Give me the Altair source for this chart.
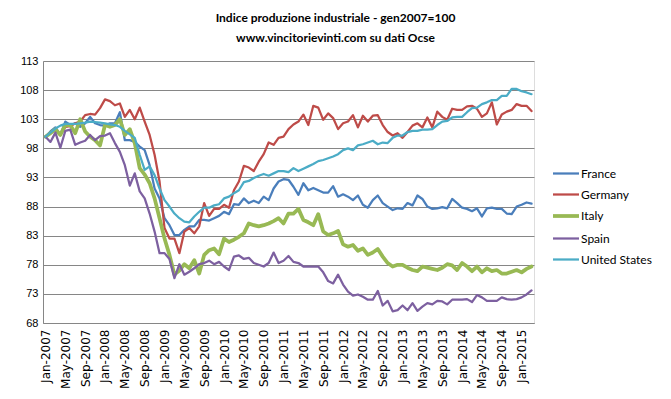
import altair as alt
import pandas as pd

month_names = ["Jan", "Feb", "Mar", "Apr", "May", "Jun",
               "Jul", "Aug", "Sep", "Oct", "Nov", "Dec"]
months = [f"{month_names[k % 12]}-{2007 + k // 12}" for k in range(99)]
tick_labels = months[::4]
y_ticks = [68, 73, 78, 83, 88, 93, 98, 103, 108, 113]

countries = ["France", "Germany", "Italy", "Spain", "United States"]
colors = ["#4A7EBB", "#BE4B48", "#98B954", "#7D60A0", "#4BACC6"]
widths = [2.25, 2.25, 3.75, 2.25, 2.25]

france = [100.0, 100.9, 101.6, 100.3, 102.6, 102.0, 102.3, 101.7, 102.3, 103.4, 102.3, 102.0,
          101.9, 102.3, 102.3, 104.2, 99.4, 99.4, 99.1, 98.3, 97.7, 95.1, 91.1, 89.4,
          86.0, 84.8, 83.1, 83.1, 84.0, 84.6, 84.6, 85.7, 85.7,
          85.6, 86.0, 86.4, 87.1, 86.7, 88.4, 88.3, 89.4, 88.6, 89.0, 88.6, 89.7, 89.1,
          91.1, 92.3, 92.7, 92.6, 91.4, 90.0, 92.0, 90.8, 91.2, 90.8, 90.4, 90.4, 91.5,
          89.7, 90.1, 89.7, 89.1, 89.9, 88.3, 87.8,
          89.1, 89.9, 88.6, 88.0, 87.4, 87.7, 87.6, 88.6, 88.2, 89.9, 89.3, 88.0, 87.6,
          87.7, 87.9, 87.7, 89.3, 88.6, 87.8, 87.6, 87.2, 87.7, 86.3, 87.7, 87.8, 87.6,
          87.6, 86.8, 86.7, 88.0, 88.3, 88.7, 88.5]
germany = [100.0, 100.6, 101.2, 100.3, 101.7, 101.8, 102.3, 102.6, 103.7, 103.9, 103.8, 104.9,
           106.4, 106.1, 105.4, 105.7, 103.4, 104.6, 103.0, 105.0, 102.6, 100.3, 96.9, 92.3,
           84.3, 82.5, 82.5, 80.0, 83.7, 84.3, 83.4, 84.6, 88.6,
           86.4, 87.6, 87.6, 88.3, 87.8, 90.8, 92.3, 95.0, 94.7, 94.1, 95.7, 97.0, 99.0,
           98.6, 99.8, 100.0, 101.3, 102.1, 102.6, 103.8, 102.0, 105.3, 105.0, 102.9, 104.0,
           103.2, 101.3, 102.3, 102.6, 103.7, 101.6, 103.6, 102.6,
           103.6, 103.7, 102.0, 100.8, 100.2, 100.6, 99.8, 100.8, 101.9, 102.3, 101.6, 103.3,
           101.6, 104.3, 103.4, 102.9, 104.8, 104.6, 104.6, 105.2, 105.3, 104.8, 103.4, 104.0,
           105.9, 102.1, 103.8, 104.3, 104.6, 105.6, 105.3, 105.3, 104.4]
italy = [100.0, 100.6, 101.3, 100.3, 102.0, 102.0, 100.6, 103.0, 100.9, 100.0, 99.4, 98.5,
         102.0, 101.7, 102.0, 103.0, 100.3, 101.3, 98.9, 94.6, 93.5, 92.0, 89.4, 86.0,
         82.5, 79.7, 76.3, 77.0, 78.1, 77.4, 78.8, 76.5, 79.7,
         80.5, 80.8, 79.8, 82.5, 81.9, 82.3, 82.8, 83.4, 85.1, 84.8, 84.6, 84.8, 85.1,
         85.5, 86.0, 85.1, 86.8, 86.8, 87.6, 85.7, 85.3, 84.8, 86.7, 83.7, 83.1, 83.4,
         83.8, 81.5, 81.1, 81.4, 80.4, 80.8, 79.7,
         80.1, 80.7, 79.4, 78.3, 77.7, 78.0, 78.0, 77.5, 77.1, 76.9, 77.7, 77.5, 77.3,
         77.1, 77.5, 78.1, 77.9, 77.1, 78.3, 77.7, 76.9, 77.7, 76.7, 77.4, 76.9, 77.1,
         76.5, 76.5, 76.8, 77.1, 76.7, 77.3, 77.7]
spain = [100.0, 99.1, 100.7, 98.1, 101.0, 101.2, 98.6, 99.0, 99.3, 100.3, 99.4, 100.1,
         100.2, 100.6, 98.9, 97.4, 95.1, 91.6, 93.7, 90.6, 89.4, 86.8, 83.7, 80.0,
         80.0, 79.0, 75.7, 78.1, 76.3, 76.8, 77.4, 78.1, 78.3,
         78.7, 78.1, 78.5, 77.7, 77.1, 79.4, 79.6, 79.0, 79.2, 78.3, 78.0, 77.7, 78.3,
         80.1, 78.3, 78.7, 79.5, 78.5, 78.3, 77.7, 77.7, 77.7, 77.7, 76.7, 75.2, 74.8,
         76.3, 74.6, 73.4, 72.7, 72.9, 72.5, 72.0,
         72.0, 73.5, 71.0, 71.8, 70.0, 70.2, 71.0, 70.2, 71.4, 70.1, 70.8, 71.4, 71.2,
         71.8, 71.7, 71.2, 72.0, 72.0, 72.0, 72.1, 71.6, 72.8, 72.4, 71.8, 71.8, 71.8,
         72.4, 72.1, 72.0, 72.1, 72.4, 72.9, 73.6]
united_states = [100.0, 100.7, 101.4, 101.9, 102.2, 102.2, 102.2, 102.3, 102.4, 102.6, 102.5, 102.4,
                 102.3, 102.1, 102.0, 101.7, 101.0, 100.4, 99.8, 96.9, 94.3, 94.9, 93.4, 91.1,
                 89.1, 88.0, 86.8, 86.0, 85.4, 85.3, 86.3, 87.1, 87.8,
                 87.8, 88.2, 88.4, 89.4, 89.7, 90.3, 90.8, 92.2, 92.4, 92.9, 93.3, 93.6, 93.3,
                 93.7, 94.1, 94.1, 93.9, 94.6, 94.1, 94.5, 94.9, 95.3, 95.8, 96.0, 96.3, 96.6,
                 97.0, 97.7, 98.0, 97.7, 98.5, 98.7, 99.0,
                 99.3, 98.7, 99.0, 98.9, 99.8, 100.2, 100.2, 100.8, 101.0, 101.0, 101.2, 101.2,
                 101.3, 102.0, 102.6, 102.7, 103.3, 103.4, 103.4, 104.2, 104.9, 105.0, 105.6,
                 105.9, 106.3, 106.3, 107.0, 107.0, 108.2, 108.2, 107.8, 107.6, 107.3]

series = [france, germany, italy, spain, united_states]
rows = []
for name, vals in zip(countries, series):
    for m, v in zip(months, vals):
        rows.append({"month": m, "country": name, "value": v})
df = pd.DataFrame(rows)

grid_color = "#868686"
legend_common = dict(title=None, orient="none", legendX=508, legendY=98,
                     symbolType="stroke", symbolSize=676,
                     labelFont="Lato", labelFontSize=12, labelColor="black",
                     rowPadding=-5, labelOffset=0)

chart = alt.Chart(df).mark_line(strokeJoin="round", strokeCap="round").encode(
    x=alt.X("month:O", sort=months, title=None,
            scale=alt.Scale(type="point", padding=0.5),
            axis=alt.Axis(values=tick_labels, labelAngle=-90, labelFont="DejaVu Sans",
                          labelFontSize=12, labelColor="black", ticks=False,
                          domainColor=grid_color, labelPadding=6, grid=False)),
    y=alt.Y("value:Q", title=None,
            scale=alt.Scale(domain=[68, 113], nice=False, zero=False),
            axis=alt.Axis(values=y_ticks, grid=True, gridColor=grid_color, gridWidth=1,
                          domainColor=grid_color, ticks=False, labelFont="Liberation Sans",
                          labelFontSize=11, labelColor="black", labelPadding=5)),
    color=alt.Color("country:N", scale=alt.Scale(domain=countries, range=colors),
                    legend=alt.Legend(**legend_common)),
    strokeWidth=alt.StrokeWidth("country:N",
                                scale=alt.Scale(type="ordinal", domain=countries, range=widths),
                                legend=alt.Legend(**legend_common)),
).properties(
    width=491, height=262,
    title=alt.TitleParams(
        ["Indice produzione industriale  - gen2007=100", "www.vincitorievinti.com su dati Ocse"],
        font="Lato", fontSize=12, fontWeight="bold", color="black",
        anchor="middle", lineHeight=20, dx=47, offset=10),
    autosize=alt.AutoSizeParams(type="none"),
    padding={"left": 35, "top": 53, "right": 125, "bottom": 67},
).configure_view(stroke=None).configure(background="white")

chart.save("out.html", embed_options={"renderer": "svg", "actions": False})
